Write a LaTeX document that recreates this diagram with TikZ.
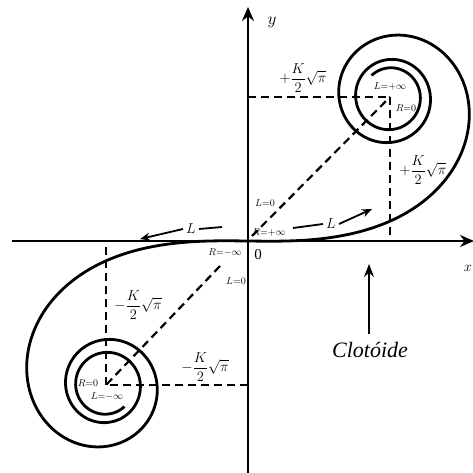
\documentclass[tikz,border=0pt]{standalone}
\usepackage{fontspec}
\setmainfont{Liberation Serif}
\usetikzlibrary{arrows.meta,calc}
\begin{document}
\begin{tikzpicture}[x=1pt,y=-1pt,
  axis/.style={line width=2.2pt,-{Stealth[length=14pt,width=12pt]}},
  curve/.style={line width=2.8pt},
  guide/.style={line width=2.2pt,dash pattern=on 8pt off 5pt},
  lab/.style={font=\fontsize{15}{17}\selectfont, inner sep=0pt},
  small/.style={font=\fontsize{10}{11}\selectfont, inner sep=0pt},
  lsym/.style={font=\fontsize{14}{16}\selectfont, inner sep=3pt},
  marrow/.style={line width=1.8pt,-{Stealth[length=10pt,width=8pt]}},
  plain/.style={line width=1.8pt},
  declare function={
    ff(\z)=(1+0.926*\z)/(2+1.792*\z+3.104*\z*\z);
    gg(\z)=1/(2+4.142*\z+3.492*\z*\z+6.670*\z*\z*\z);
    fc(\z)=0.5+ff(\z)*sin(90*\z*\z)-gg(\z)*cos(90*\z*\z);
    fs(\z)=0.5-ff(\z)*cos(90*\z*\z)-gg(\z)*sin(90*\z*\z);
  }]
\useasboundingbox (0,0) rectangle (473,473);
% key points
\coordinate (O) at (248,241);
\coordinate (XL) at (12,241);
\coordinate (XR) at (474,241);
\coordinate (YB) at (248,473);
\coordinate (YT) at (248,7);
\coordinate (C1) at (390,97);
\coordinate (C2) at (106,385);
\coordinate (C1x) at (390,241);
\coordinate (C1y) at (248,97);
\coordinate (C2x) at (106,241);
\coordinate (C2y) at (248,385);
\coordinate (d1) at (252,236);
\coordinate (d2) at (220,266);
% axes
\draw[axis] (XL) -- (XR);
\draw[axis] (YB) -- (YT);
\node[font=\fontsize{17}{19}\selectfont] (ylab) at (272,22) {$y$};
\node[font=\fontsize{15}{17}\selectfont, anchor=east, inner sep=1pt] (xlab) at (473,268) {$x$};
\node[font=\fontsize{15}{17}\selectfont] (zero) at (258,255) {0};
% dashed guides
\draw[guide] (C1y) -- (C1);
\draw[guide] (C1) -- (C1x);
\draw[guide] (d1) -- (C1);
\draw[guide] (C2y) -- (C2);
\draw[guide] (C2) -- (C2x);
\draw[guide] (d2) -- (C2);
% clothoid
\draw[curve] plot[domain=0:3.24, samples=320, variable=\t] ({248+284*fc(\t)},{241-288*fs(\t)});
\draw[curve] plot[domain=0:3.24, samples=320, variable=\t] ({248-284*fc(\t)},{241+288*fs(\t)});
% K labels
\node[lab] (k1) at (303,78) {$+\displaystyle\frac{K}{2}\sqrt{\pi}$};
\node[lab] (k2) at (423,170) {$+\displaystyle\frac{K}{2}\sqrt{\pi}$};
\node[lab] (k3) at (138,305) {$-\displaystyle\frac{K}{2}\sqrt{\pi}$};
\node[lab] (k4) at (205,367) {$-\displaystyle\frac{K}{2}\sqrt{\pi}$};
% small labels
\node[small] (l1) at (390,87) {$L{=}{+}\infty$};
\node[small] (r1) at (406,108) {$R{=}0$};
\node[small] (l2) at (265,203) {$L{=}0$};
\node[small] (r2) at (269,232) {$R{=}{+}\infty$};
\node[small] (r3) at (225,252) {$R{=}{-}\infty$};
\node[small] (l3) at (236,281) {$L{=}0$};
\node[small] (r4) at (88,383) {$R{=}0$};
\node[small] (l4) at (107,396) {$L{=}{-}\infty$};
% L arrows
\node[lsym] (uL) at (331,224) {$L$};
\coordinate (ua) at (293,228);
\coordinate (ud) at (372,209);
\draw[plain] (ua) -- (uL.west);
\draw[marrow] (uL.east) -- (ud);
\node[lsym] (lL) at (191,229) {$L$};
\coordinate (la) at (222,227);
\coordinate (ld) at (140,239);
\draw[plain] (lL.east) -- (la);
\draw[marrow] (lL.west) -- (ld);
% Clotoide label
\node[font=\fontsize{22}{25}\selectfont\itshape] (clot) at (370,350) {Clotóide};
\coordinate (ctail) at (369,334);
\coordinate (ctip) at (369,264);
\draw[line width=1.8pt,-{Stealth[length=13pt,width=10pt]}] (ctail) -- (ctip);
\end{tikzpicture}
\end{document}
